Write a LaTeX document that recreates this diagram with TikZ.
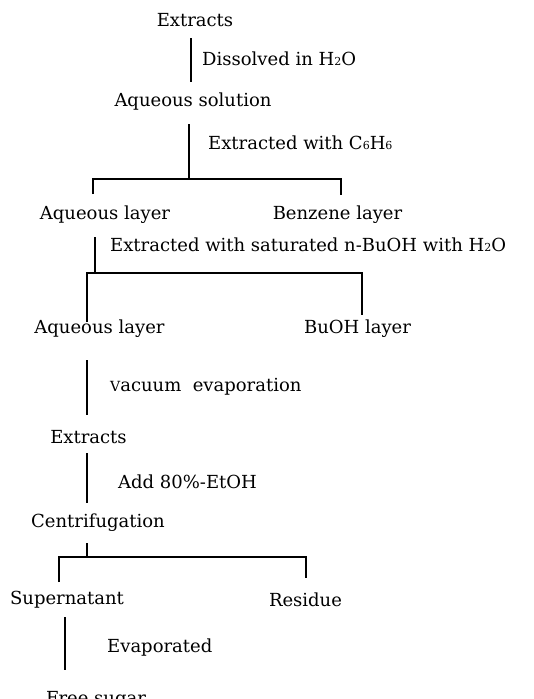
\documentclass[tikz,border=0pt]{standalone}
\usepackage{fontspec}
\setmainfont{DejaVu Serif}
\newcommand{\sbs}[1]{{\fontsize{11}{11}\selectfont #1}}
\begin{document}
\begin{tikzpicture}[x=1pt,y=-1pt,
  txt/.style={inner sep=0pt,font=\fontsize{18}{20}\selectfont},
  lbl/.style={txt,anchor=west},
  conn/.style={line width=1.1pt}]
\useasboundingbox (0,0) rectangle (533,699);
% nodes
\node[txt] (ext1) at (195,20) {Extracts};
\node[txt] (aqs) at (193,102) {Aqueous solution};
\node[txt] (aql1) at (105,215) {Aqueous layer};
\node[txt] (benz) at (337.5,215) {Benzene layer};
\node[txt] (aql2) at (99.5,329) {Aqueous layer};
\node[txt] (buoh) at (357.5,329) {BuOH layer};
\node[txt] (ext2) at (88.5,437) {Extracts};
\node[txt] (cent) at (98,523) {Centrifugation};
\node[txt] (sup) at (67,600) {Supernatant};
\node[txt] (res) at (305.5,600) {Residue};
\node[txt] (free) at (96,700) {Free sugar};
% labels
\node[lbl] (l1) at (202,59) {Dissolved in H\sbs{2}O};
\node[lbl] (l2) at (208,143) {Extracted with C\sbs{6}H\sbs{6}};
\node[lbl] (l3) at (110,245) {Extracted with saturated n-BuOH with H\sbs{2}O};
\node[lbl] (l4) at (110,387) {{\fontsize{14}{14}\selectfont V}acuum\ \ evaporation};
\node[lbl] (l5) at (118,482) {Add 80\%-EtOH};
\node[lbl] (l6) at (107,648) {Evaporated};
% connector endpoints
\coordinate (a1) at (191,38);  \coordinate (a2) at (191,82);
\coordinate (b1) at (189,124); \coordinate (b2) at (189,179);
\coordinate (bl) at (93,179);  \coordinate (br) at (341,179);
\coordinate (blt) at (93,194); \coordinate (brt) at (341,195);
\coordinate (c1) at (95,237);  \coordinate (c2) at (95,273);
\coordinate (cl) at (87,273);  \coordinate (cr) at (362,273);
\coordinate (clt) at (87,322); \coordinate (crt) at (362,315);
\coordinate (d1) at (87,360);  \coordinate (d2) at (87,415);
\coordinate (e1) at (87,453);  \coordinate (e2) at (87,503);
\coordinate (f1) at (87,543);  \coordinate (f2) at (87,557);
\coordinate (fl) at (59,557);  \coordinate (fr) at (306,557);
\coordinate (flt) at (59,582); \coordinate (frt) at (306,578);
\coordinate (g1) at (65,617);  \coordinate (g2) at (65,670);
% connectors
\draw[conn] (a1) -- (a2);
\draw[conn] (b1) -- (b2);
\draw[conn] (blt) -- (bl) -- (br) -- (brt);
\draw[conn] (c1) -- (c2);
\draw[conn] (clt) -- (cl) -- (cr) -- (crt);
\draw[conn] (d1) -- (d2);
\draw[conn] (e1) -- (e2);
\draw[conn] (f1) -- (f2);
\draw[conn] (flt) -- (fl) -- (fr) -- (frt);
\draw[conn] (g1) -- (g2);
\end{tikzpicture}
\end{document}
